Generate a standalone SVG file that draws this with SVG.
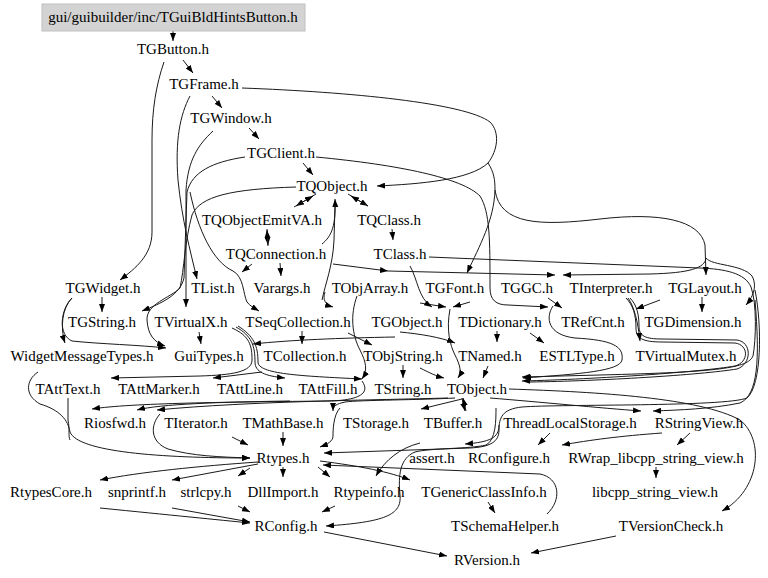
<svg xmlns="http://www.w3.org/2000/svg" width="768" height="578" viewBox="0 0 768 578">
<style>
.e{fill:none;stroke:#1a1a1a;stroke-width:1;marker-end:url(#ah)}
.e0{fill:none;stroke:#1a1a1a;stroke-width:1}
text{font-family:"Liberation Serif","Times New Roman",serif;font-size:15px;text-anchor:middle;fill:#000}
</style>
<defs>
<marker id="ah" viewBox="0 0 8 6" refX="8" refY="3" markerUnits="userSpaceOnUse" markerWidth="8" markerHeight="6" orient="auto"><path d="M0,0L8,3L0,6z" fill="#000"/></marker>
</defs>
<rect width="768" height="578" fill="#fff"/>
<g id="edges">
<path class="e" d="M173,31 L173,41"/>
<path class="e" d="M183,60 L193,73"/>
<path class="e" d="M164,62 C156,85 152,110 152,140 L152,232 C152,255 136,268 120,280"/>
<path class="e" d="M212,96 L222,108"/>
<path class="e" d="M249,128 L259,139"/>
<path class="e" d="M303,163 L313,175"/>
<path class="e" d="M242,88 C350,92 465,103 490,122 C500,132 498,150 488,163 C470,180 420,184 377,186"/>
<path class="e" d="M488,163 C494,172 495,180 495,190 C494,220 480,245 467,273"/>
<path class="e" d="M495,190 C500,225 540,226 600,219 C660,212 700,220 705,245 L706,275"/>
<path class="e" d="M706,258 C705,268 690,273 650,274 L563,275"/>
<path class="e" d="M706,258 C712,266 742,264 752,276 C758,287 752,298 746,305"/>
<path class="e" d="M316,157 C400,165 462,178 480,196 C490,212 490,240 490,288 C490,300 496,305 508,305 L548,307"/>
<path class="e" d="M429,257 L700,268 C725,269 745,273 751,287 C757,303 756,340 753,356 C748,368 720,372 600,375 L522,377"/>
<path class="e" d="M626,298 C633,305 636,315 636,328 C636,338 642,342 662,342 L735,343 C749,345 749,362 735,366 C700,372 600,379 522,381"/>
<path class="e0" d="M630,298 C637,305 639,315 639,326 C639,336 645,339 662,339 L737,340 C752,342 752,364 737,369 C700,375 600,381 530,382"/>
<path class="e" d="M628,298 C634,306 638,322 640,341"/>
<path class="e" d="M755,290 C762,325 762,385 747,398 C725,407 560,404 522,407 C502,409 499,418 499,430 C499,442 490,447 470,448 L324,453"/>
<path class="e" d="M496,408 C496,420 496,440 486,445 C470,449 430,448 415,452 C400,458 398,475 400,495 C402,515 385,522 326,526"/>
<path class="e" d="M420,443 C400,448 385,460 376,476"/>
<path class="e" d="M509,389 C600,392 700,398 740,420 C765,440 760,490 722,511"/>
<path class="e" d="M490,398 C540,402 600,408 641,411"/>
<path class="e" d="M755,300 C760,360 758,395 740,403 C710,409 680,410 653,411"/>
<path class="e" d="M190,96 C180,115 175,140 178,180 C182,220 190,250 197,279"/>
<path class="e" d="M213,131 C198,145 188,160 186,190 L186,307"/>
<path class="e" d="M245,157 C212,162 192,172 187,192 L184,278 C180,295 162,303 142,311"/>
<path class="e" d="M296,187 C232,189 200,196 192,215 C185,240 184,270 180,288 C170,298 146,304 147,320 C148,335 154,342 165,346"/>
<path class="e" d="M190,192 C198,230 213,262 233,271 C244,277 243,294 247,302 C250,306 254,308 259,311"/>
<path class="e" d="M316,194 L296,206"/>
<path class="e" d="M294,207 L313,196"/>
<path class="e" d="M348,194 L368,206"/>
<path class="e" d="M368,206 L351,196"/>
<path class="e" d="M392,229 L393,240"/>
<path class="e" d="M267,229 L268,245"/>
<path class="e" d="M268,246 L267,230"/>
<path class="e" d="M322,244 C332,236 336,225 335,199"/>
<path class="e0" d="M322,300 C325,285 333,265 334,240 L335,205"/>
<path class="e" d="M325,292 C322,300 326,305 333,307"/>
<path class="e" d="M252,264 L242,272"/>
<path class="e" d="M280,263 L281,276"/>
<path class="e" d="M333,264 L388,271"/>
<path class="e" d="M388,271 L555,275"/>
<path class="e" d="M102,297 L102,312"/>
<path class="e" d="M72,298 C62,308 60,328 65,343"/>
<path class="e" d="M72,298 C60,310 58,335 72,341 C100,344 140,345 166,348"/>
<path class="e" d="M199,332 L201,344"/>
<path class="e" d="M302,331 L302,344"/>
<path class="e" d="M395,337 C340,338 290,340 253,344"/>
<path class="e" d="M348,333 L372,345"/>
<path class="e" d="M357,296 C350,315 352,335 360,350 C366,362 368,370 362,379"/>
<path class="e" d="M400,332 C420,334 440,337 455,343"/>
<path class="e" d="M497,331 L497,342"/>
<path class="e" d="M530,333 L544,343"/>
<path class="e" d="M420,303 L446,307"/>
<path class="e" d="M470,302 L453,307"/>
<path class="e" d="M450,309 C446,330 450,345 455,355 C460,365 462,372 458,378"/>
<path class="e" d="M410,266 C418,280 418,298 432,307"/>
<path class="e" d="M548,298 L562,308"/>
<path class="e" d="M553,306 C545,318 548,335 575,338 C612,340 624,346 622,360 C620,371 580,374 523,378"/>
<path class="e" d="M702,297 L702,312"/>
<path class="e" d="M660,300 L636,309"/>
<path class="e" d="M232,328 C250,336 252,346 252,360 C252,372 232,375 200,376 L111,378"/>
<path class="e" d="M262,372 L213,378"/>
<path class="e" d="M236,327 C252,336 255,346 255,362 C255,372 265,376 285,378"/>
<path class="e" d="M238,326 C254,336 258,346 258,362 C258,374 300,376 362,379"/>
<path class="e" d="M403,365 L403,378"/>
<path class="e" d="M420,368 C430,373 436,376 444,378"/>
<path class="e" d="M488,366 L483,378"/>
<path class="e" d="M462,398 L465,411"/>
<path class="e" d="M466,411 L463,398"/>
<path class="e" d="M462,399 L421,409"/>
<path class="e" d="M455,398 C420,400 360,400 345,402 C336,404 333,406 333,411"/>
<path class="e" d="M448,398 C380,400 250,401 157,410"/>
<path class="e" d="M362,381 C370,392 362,400 330,401 C230,402 130,403 92,409"/>
<path class="e" d="M290,401 C220,402 160,404 137,410"/>
<path class="e" d="M38,372 C26,380 24,395 40,404 C60,410 68,420 70,432 C78,452 160,458 250,458"/>
<path class="e0" d="M68,398 L68,420 C70,430 68,436 70,440"/>
<path class="e" d="M160,414 C150,425 150,442 168,449 C192,456 220,457 250,458"/>
<path class="e" d="M232,437 L248,445"/>
<path class="e" d="M283,432 L283,446"/>
<path class="e" d="M340,408 C333,415 333,432 333,436 C333,441 328,444 320,447"/>
<path class="e" d="M499,425 C499,438 490,442 465,444"/>
<path class="e" d="M550,433 L538,445"/>
<path class="e" d="M662,433 C620,436 590,440 562,445"/>
<path class="e" d="M690,433 L677,445"/>
<path class="e" d="M656,467 L656,478"/>
<path class="e" d="M258,462 C200,466 140,472 100,480"/>
<path class="e" d="M258,464 L172,480"/>
<path class="e" d="M250,468 L238,476"/>
<path class="e" d="M283,467 L283,477"/>
<path class="e" d="M318,467 L330,477"/>
<path class="e" d="M320,461 C360,466 390,472 410,480"/>
<path class="e" d="M100,508 C170,515 220,520 250,523"/>
<path class="e" d="M172,508 L250,522"/>
<path class="e" d="M238,506 L250,512"/>
<path class="e" d="M335,506 L322,512"/>
<path class="e" d="M547,514 C562,500 560,478 540,474 L323,465"/>
<path class="e" d="M488,502 L495,513"/>
<path class="e" d="M616,536 L531,553"/>
<path class="e" d="M324,532 L447,556"/>
</g>
<g id="n_root"><rect x="42" y="4" width="263" height="27" fill="#d3d3d3" stroke="#c0c0c0"/><text x="173" y="22">gui/guibuilder/inc/TGuiBldHintsButton.h</text></g>
<g id="n_TGButton"><text x="173" y="54">TGButton.h</text></g>
<g id="n_TGFrame"><text x="204" y="89">TGFrame.h</text></g>
<g id="n_TGWindow"><text x="231" y="123">TGWindow.h</text></g>
<g id="n_TGClient"><text x="281" y="158">TGClient.h</text></g>
<g id="n_TQObject"><text x="332" y="191">TQObject.h</text></g>
<g id="n_TQObjectEmitVA"><text x="262" y="225">TQObjectEmitVA.h</text></g>
<g id="n_TQClass"><text x="389" y="225">TQClass.h</text></g>
<g id="n_TQConnection"><text x="276" y="259">TQConnection.h</text></g>
<g id="n_TClass"><text x="400" y="259">TClass.h</text></g>
<g id="n_TGWidget"><text x="103" y="293">TGWidget.h</text></g>
<g id="n_TList"><text x="213" y="293">TList.h</text></g>
<g id="n_Varargs"><text x="282" y="293">Varargs.h</text></g>
<g id="n_TObjArray"><text x="370" y="293">TObjArray.h</text></g>
<g id="n_TGFont"><text x="455" y="293">TGFont.h</text></g>
<g id="n_TGGC"><text x="527" y="293">TGGC.h</text></g>
<g id="n_TInterpreter"><text x="611" y="293">TInterpreter.h</text></g>
<g id="n_TGLayout"><text x="705" y="293">TGLayout.h</text></g>
<g id="n_TGString"><text x="102" y="327">TGString.h</text></g>
<g id="n_TVirtualX"><text x="191" y="327">TVirtualX.h</text></g>
<g id="n_TSeqCollection"><text x="298" y="327">TSeqCollection.h</text></g>
<g id="n_TGObject"><text x="407" y="327">TGObject.h</text></g>
<g id="n_TDictionary"><text x="500" y="327">TDictionary.h</text></g>
<g id="n_TRefCnt"><text x="593" y="327">TRefCnt.h</text></g>
<g id="n_TGDimension"><text x="693" y="327">TGDimension.h</text></g>
<g id="n_WidgetMessageTypes"><text x="82" y="361">WidgetMessageTypes.h</text></g>
<g id="n_GuiTypes"><text x="209" y="361">GuiTypes.h</text></g>
<g id="n_TCollection"><text x="305" y="361">TCollection.h</text></g>
<g id="n_TObjString"><text x="403" y="361">TObjString.h</text></g>
<g id="n_TNamed"><text x="490" y="361">TNamed.h</text></g>
<g id="n_ESTLType"><text x="577" y="361">ESTLType.h</text></g>
<g id="n_TVirtualMutex"><text x="686" y="361">TVirtualMutex.h</text></g>
<g id="n_TAttText"><text x="68" y="394">TAttText.h</text></g>
<g id="n_TAttMarker"><text x="159" y="394">TAttMarker.h</text></g>
<g id="n_TAttLine"><text x="250" y="394">TAttLine.h</text></g>
<g id="n_TAttFill"><text x="328" y="394">TAttFill.h</text></g>
<g id="n_TString"><text x="403" y="394">TString.h</text></g>
<g id="n_TObject"><text x="477" y="394">TObject.h</text></g>
<g id="n_Riosfwd"><text x="115" y="428">Riosfwd.h</text></g>
<g id="n_TIterator"><text x="196" y="428">TIterator.h</text></g>
<g id="n_TMathBase"><text x="283" y="428">TMathBase.h</text></g>
<g id="n_TStorage"><text x="376" y="428">TStorage.h</text></g>
<g id="n_TBuffer"><text x="453" y="428">TBuffer.h</text></g>
<g id="n_ThreadLocalStorage"><text x="570" y="428">ThreadLocalStorage.h</text></g>
<g id="n_RStringView"><text x="699" y="428">RStringView.h</text></g>
<g id="n_Rtypes"><text x="283" y="463">Rtypes.h</text></g>
<g id="n_assert"><text x="432" y="463">assert.h</text></g>
<g id="n_RConfigure"><text x="509" y="463">RConfigure.h</text></g>
<g id="n_RWrap"><text x="656" y="463">RWrap_libcpp_string_view.h</text></g>
<g id="n_RtypesCore"><text x="51" y="497">RtypesCore.h</text></g>
<g id="n_snprintf"><text x="137" y="497">snprintf.h</text></g>
<g id="n_strlcpy"><text x="206" y="497">strlcpy.h</text></g>
<g id="n_DllImport"><text x="283" y="497">DllImport.h</text></g>
<g id="n_Rtypeinfo"><text x="369" y="497">Rtypeinfo.h</text></g>
<g id="n_TGenericClassInfo"><text x="484" y="497">TGenericClassInfo.h</text></g>
<g id="n_libcpp"><text x="655" y="497">libcpp_string_view.h</text></g>
<g id="n_RConfig"><text x="286" y="531">RConfig.h</text></g>
<g id="n_TSchemaHelper"><text x="505" y="531">TSchemaHelper.h</text></g>
<g id="n_TVersionCheck"><text x="671" y="531">TVersionCheck.h</text></g>
<g id="n_RVersion"><text x="487" y="565">RVersion.h</text></g>
</svg>
